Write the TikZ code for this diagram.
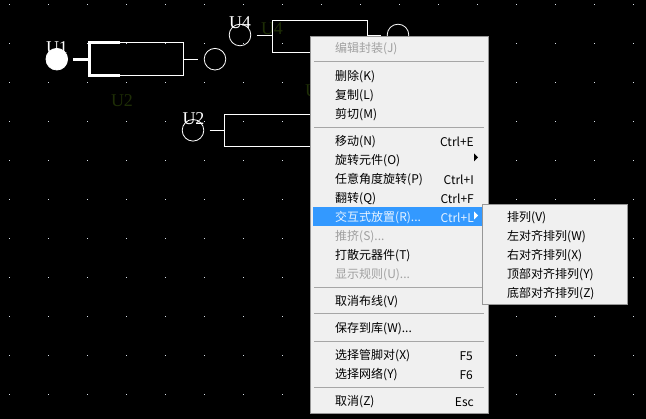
\documentclass[tikz,border=0pt]{standalone}
\usepackage{fontspec}
\setmainfont{Noto Sans CJK SC}
\newfontfamily\serifl{Liberation Serif}
\definecolor{menubg}{HTML}{F0F0F0}
\definecolor{menuedge}{HTML}{979797}
\definecolor{menusep}{HTML}{A6A6A6}
\definecolor{menuhi}{HTML}{3399FF}
\definecolor{menuoff}{HTML}{A0A0A0}
\definecolor{dimlabel}{HTML}{1E2E06}
\definecolor{griddot}{HTML}{D8E0E8}
\tikzset{
  wire/.style={draw=white,line width=0.9pt},
  thickwire/.style={draw=white,line width=3.2pt},
  pin/.style={circle,draw=white,line width=0.8pt,minimum size=21.6pt,inner sep=0pt},
  pinsel/.style={circle,draw=white,fill=white,line width=0.8pt,minimum size=21.6pt,inner sep=0pt},
  body/.style={rectangle,draw=white,line width=0.9pt,inner sep=0pt},
  reflabel/.style={font=\serifl\fontsize{18}{18}\selectfont,text=white,inner sep=0pt},
  dimlab/.style={font=\serifl\fontsize{18}{18}\selectfont,text=dimlabel,inner sep=0pt},
  panel/.style={rectangle,draw=menuedge,fill=menubg,line width=1pt,inner sep=0pt,anchor=north west},
  item/.style={font=\fontsize{12}{12}\selectfont,text=black,inner sep=0pt,anchor=west},
  itemoff/.style={item,text=menuoff},
  itemhi/.style={item,text=white!88!menuhi},
  keyl/.style={font=\fontsize{12}{12}\selectfont,text=black,inner sep=0pt,anchor=east},
  sepline/.style={draw=menusep,line width=1pt},
}
\begin{document}
\begin{tikzpicture}[x=1pt,y=-1pt]
\path[fill=black,use as bounding box] (0,0) rectangle (646,419);
% grid
\foreach \gx in {0,...,16}{\foreach \gy in {0,...,10}{
  \fill[griddot] ({9.5+39*\gx-0.5},{5+39*\gy-0.5}) rectangle ++(1,1);
}}
% dim labels
\node[dimlab] (l2) at (122,100.5) {U2};
\node[dimlab] (l4) at (272,28.5) {U4};
\node[dimlab,anchor=west] (l3) at (305,90.5) {U};
% U1
\node[pinsel] (u1a) at (56.8,59.2) {};
\node[body,minimum width=94pt,minimum height=32.5pt] (u1b) at (136.8,59.2) {};
\node[pin] (u1c) at (215,59.2) {};
\draw[thickwire,shorten <=5pt] (u1a.east) -- (u1b.west);
\draw[thickwire] (u1b.north west)++(31,0) -- (u1b.north west) -- (u1b.south west) -- ++(31,0);
\draw[wire,shorten >=5.5pt] (u1b.east) -- (u1c.west);
\node[reflabel] (u1t) at (57,47.5) {U1};
% U2
\node[pin] (u2a) at (193,130.3) {};
\node[body,minimum width=110pt,minimum height=32.5pt] (u2b) at (279.5,130.3) {};
\draw[wire,shorten <=5.5pt] (u2a.east) -- (u2b.west);
\node[reflabel] (u2t) at (193.5,118.5) {U2};
% U4
\node[pin] (u4a) at (240,35) {};
\node[body,minimum width=94.5pt,minimum height=32pt] (u4b) at (319.75,36) {};
\node[pin] (u4c) at (398,35) {};
\draw[wire,shorten <=5.5pt] (u4a.east) -- (u4a.east -| u4b.west);
\draw[wire,shorten >=5.5pt] (u4a.east -| u4b.east) -- (u4c.west);
\node[reflabel] (u4t) at (240,22.5) {U4};
% main menu
\node[panel,minimum width=178pt,minimum height=377pt] (menu) at (310,36) {};
\foreach \sy in {62,127.5,288,314,342,388}{
  \draw[sepline] (314,\sy) -- (484,\sy);
}
\fill[menuhi] (313,207) rectangle (483,226);
\node[itemoff] (m1) at (335,49) {编辑封装(J)};
\node[item] (m2) at (335,77) {删除(K)};
\node[item] (m3) at (335,96) {复制(L)};
\node[item] (m4) at (335,115) {剪切(M)};
\node[item] (m5) at (335,142) {移动(N)};
\node[item] (m6) at (335,161) {旋转元件(O)};
\node[item] (m7) at (335,180) {任意角度旋转(P)};
\node[item] (m8) at (335,199) {翻转(Q)};
\node[itemhi] (m9) at (335,218) {交互式放置(R)...};
\node[itemoff] (m10) at (335,237) {推挤(S)...};
\node[item] (m11) at (335,256) {打散元器件(T)};
\node[itemoff] (m12) at (335,275) {显示规则(U)...};
\node[item] (m13) at (335,302) {取消布线(V)};
\node[item] (m14) at (335,329) {保存到库(W)...};
\node[item] (m15) at (335,356) {选择管脚对(X)};
\node[item] (m16) at (335,375) {选择网络(Y)};
\node[item] (m17) at (335,402) {取消(Z)};
\node[keyl] (k5) at (474,142) {Ctrl+E};
\node[keyl] (k7) at (474,180) {Ctrl+I};
\node[keyl] (k8) at (474,199) {Ctrl+F};
\node[keyl,text=white!88!menuhi] (k9) at (474,218) {Ctrl+L};
\node[keyl] (k15) at (473,356) {F5};
\node[keyl] (k16) at (473,375) {F6};
\node[keyl] (k17) at (474,402) {Esc};
\fill[black] (474,153.5) -- (478,157.5) -- (474,161.5) -- cycle;
\fill[white] (474,211.5) -- (478,215.5) -- (474,219.5) -- cycle;
% submenu
\node[panel,minimum width=145pt,minimum height=100pt] (sub) at (482,204.5) {};
\node[item] (s1) at (507,218) {排列(V)};
\node[item] (s2) at (507,237) {左对齐排列(W)};
\node[item] (s3) at (507,256) {右对齐排列(X)};
\node[item] (s4) at (507,275) {顶部对齐排列(Y)};
\node[item] (s5) at (507,294) {底部对齐排列(Z)};
\end{tikzpicture}
\end{document}
